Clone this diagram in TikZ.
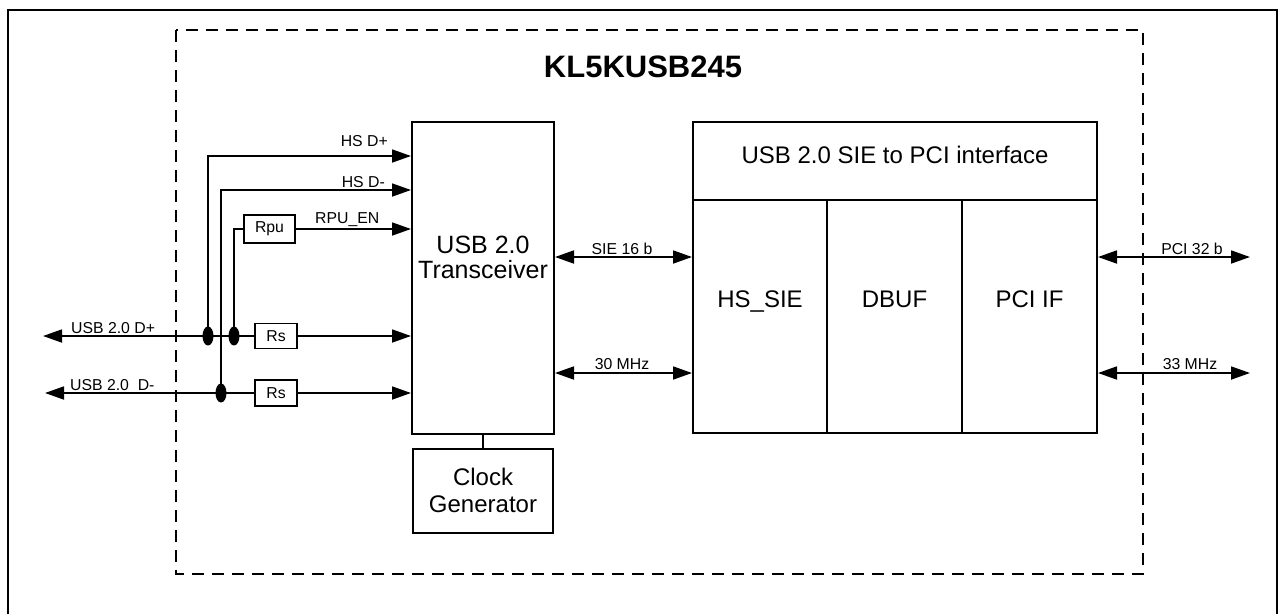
\documentclass[tikz,border=0pt]{standalone}
\usepackage{fontspec}
\setmainfont{Liberation Sans}
\usetikzlibrary{arrows.meta,shapes.geometric}
\begin{document}
\begin{tikzpicture}[x=1pt,y=-1pt,
  box/.style={draw,line width=2pt,inner sep=0pt,rectangle},
  wire/.style={line width=1.8pt},
  tipR/.style={wire,-{Triangle[length=19pt,width=13pt]}},
  tipL/.style={wire,{Triangle[length=19pt,width=13pt]}-},
  tipLR/.style={wire,{Triangle[length=19pt,width=13pt]}-{Triangle[length=19pt,width=13pt]}},
  dotnode/.style={ellipse,fill=black,draw=none,minimum width=11pt,minimum height=19pt,inner sep=0pt},
  big/.style={font=\fontsize{25}{25}\selectfont,inner sep=0pt},
  mid/.style={font=\fontsize{24}{24}\selectfont,inner sep=0pt},
  small/.style={font=\fontsize{15.8}{16}\selectfont,inner sep=0pt},
  ttl/.style={font=\fontsize{31}{31}\selectfont\bfseries,inner sep=0pt}
]
\useasboundingbox (0,0) rectangle (1279,614);
% outer frame (open at bottom)
\draw[line width=2pt] (8,614) -- (8,10) -- (1277,10) -- (1277,614);
% dashed chip outline
\draw[line width=2.2pt,dash pattern=on 12pt off 8pt] (176,30) rectangle (1143,574);
\node[ttl,anchor=base] (title) at (643,77) {KL5KUSB245};

% main blocks
\node[box,minimum width=142pt,minimum height=312pt] (tr) at (483,278) {};
\node[big,anchor=base] (trA) at (483,253) {USB 2.0};
\node[big,anchor=base] (trB) at (483,278) {Transceiver};

\node[box,minimum width=140pt,minimum height=84pt] (clk) at (483,491) {};
\node[mid,anchor=base] (clkA) at (483,485) {Clock};
\node[mid,anchor=base] (clkB) at (483,512) {Generator};
\draw[line width=1.8pt] (tr.south) -- (clk.north);

\node[box,minimum width=404pt,minimum height=311pt] (sie) at (895,277.5) {};
\draw[line width=2pt] (sie.west |- 0,200) -- (sie.east |- 0,200);
\draw[line width=2pt] (827,200) -- (827,433);
\draw[line width=2pt] (962,200) -- (962,433);
\node[mid,anchor=base] (sieT) at (895,163) {USB 2.0 SIE to PCI interface};
\node[mid,anchor=base] (hssie) at (760,307) {HS\_SIE};
\node[mid,anchor=base] (dbuf) at (894.5,307) {DBUF};
\node[mid,anchor=base] (pciif) at (1029.5,307) {PCI IF};

% resistors and junction dots
\node[box,line width=1.8pt,minimum width=51pt,minimum height=28pt,font=\fontsize{15.8}{16}\selectfont] (rpu) at (269.5,229) {Rpu};
\node[box,line width=1.8pt,minimum width=42pt,minimum height=25pt,font=\fontsize{15.8}{16}\selectfont] (rs1) at (276,336) {Rs};
\node[box,line width=1.8pt,minimum width=42pt,minimum height=26pt,font=\fontsize{15.8}{16}\selectfont] (rs2) at (276,393) {Rs};
\node[dotnode] (d1) at (208,336) {};
\node[dotnode] (d2) at (234,336) {};
\node[dotnode] (d3) at (221,393) {};

% coordinates
\coordinate (dpL) at (43,336);
\coordinate (dmL) at (45,393);
\coordinate (yhsp) at (0,156);
\coordinate (yhsm) at (0,190);
\coordinate (ysie) at (0,257);
\coordinate (yclk) at (0,373);
\coordinate (pciR) at (1250,257);
\coordinate (clkR) at (1250,373);

% USB lines
\draw[tipL] (dpL) -- (rs1.west);
\draw[tipR] (rs1.east) -- (tr.west |- rs1.east);
\draw[tipL] (dmL) -- (rs2.west);
\draw[tipR] (rs2.east) -- (tr.west |- rs2.east);
\draw[tipR] (d1.center) -- (d1.center |- yhsp) -- (tr.west |- yhsp);
\draw[tipR] (d3.center) -- (d3.center |- yhsm) -- (tr.west |- yhsm);
\draw[wire] (d2.center) |- (rpu.west);
\draw[tipR] (rpu.east) -- (tr.west |- rpu.east);

% bus arrows
\draw[tipLR] (tr.east |- ysie) -- (sie.west |- ysie);
\draw[tipLR] (tr.east |- yclk) -- (sie.west |- yclk);
\draw[tipLR] (sie.east |- ysie) -- (pciR);
\draw[tipLR] (sie.east |- yclk) -- (clkR);

% labels
\node[small,anchor=base east] (lhsp) at (388,146) {HS D+};
\node[small,anchor=base east] (lhsm) at (385,187) {HS D-};
\node[small,anchor=base west] (lrpu) at (315,223) {RPU\_EN};
\node[small,anchor=base west] (ldp) at (71,333) {USB 2.0 D+};
\node[small,anchor=base west] (ldm) at (70,390) {USB 2.0\ \ D-};
\node[small,anchor=base] (lsie) at (622,254) {SIE 16 b};
\node[small,anchor=base] (l30) at (622,369) {30 MHz};
\node[small,anchor=base] (lpci) at (1192,254) {PCI 32 b};
\node[small,anchor=base] (l33) at (1190,369) {33 MHz};
\end{tikzpicture}
\end{document}
